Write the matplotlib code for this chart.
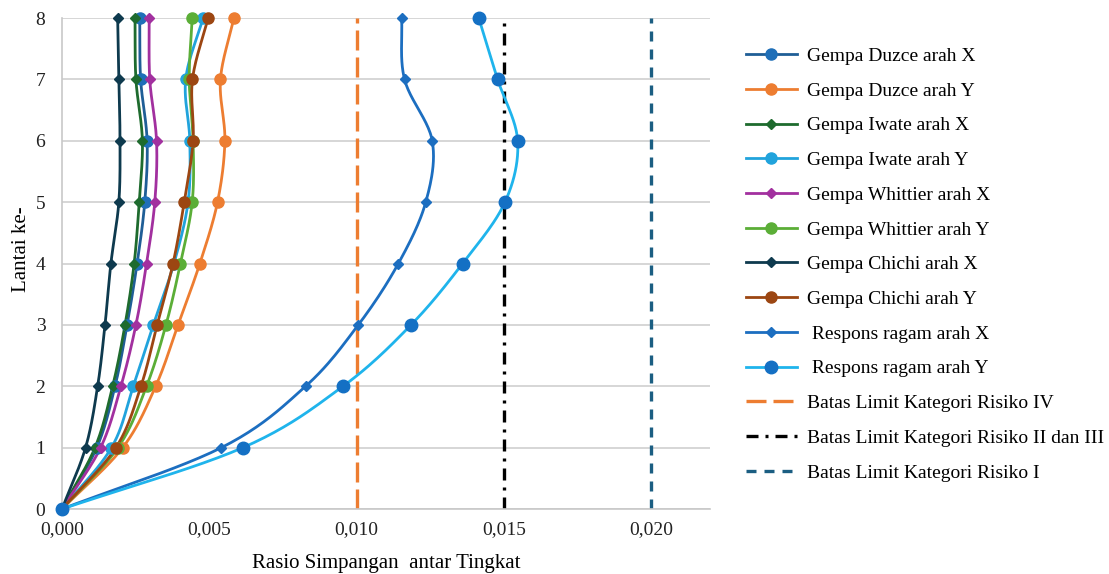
import numpy as np
import matplotlib
matplotlib.use("Agg")
import matplotlib.pyplot as plt
from matplotlib.ticker import FuncFormatter

plt.rcParams['font.family'] = ['Liberation Serif', 'DejaVu Serif']

floors = [0, 1, 2, 3, 4, 5, 6, 7, 8]

duzce_x = [0, 0.00118, 0.00180, 0.00221, 0.00255, 0.00281, 0.00289, 0.00267, 0.00264]
duzce_y = [0, 0.00206, 0.00318, 0.00394, 0.00468, 0.00528, 0.00553, 0.00538, 0.00584]
iwate_x = [0, 0.00112, 0.00172, 0.00214, 0.00245, 0.00262, 0.00273, 0.00251, 0.00248]
iwate_y = [0, 0.00168, 0.00242, 0.00310, 0.00380, 0.00428, 0.00434, 0.00420, 0.00479]
whittier_x = [0, 0.00131, 0.00200, 0.00251, 0.00287, 0.00315, 0.00321, 0.00298, 0.00296]
whittier_y = [0, 0.00190, 0.00287, 0.00353, 0.00402, 0.00442, 0.00445, 0.00432, 0.00442]
chichi_x = [0, 0.00080, 0.00121, 0.00146, 0.00166, 0.00193, 0.00197, 0.00193, 0.00189]
chichi_y = [0, 0.00183, 0.00268, 0.00323, 0.00377, 0.00415, 0.00445, 0.00443, 0.00496]
respons_x = [0, 0.00541, 0.00827, 0.01006, 0.01142, 0.01235, 0.01257, 0.01163, 0.01153]
respons_y = [0, 0.00614, 0.00954, 0.01185, 0.01360, 0.01504, 0.01547, 0.01479, 0.01415]

limit_iv = 0.010
limit_ii_iii = 0.015
limit_i = 0.020

series = [
    ("Gempa Duzce arah X", duzce_x, "#1F5E96", "#1F6FB8", "o", 8),
    ("Gempa Duzce arah Y", duzce_y, "#ED7D31", "#ED7D31", "o", 8),
    ("Gempa Iwate arah X", iwate_x, "#1E6B2E", "#1E6B2E", "D", 5.5),
    ("Gempa Iwate arah Y", iwate_y, "#21A3DC", "#21A3DC", "o", 8),
    ("Gempa Whittier arah X", whittier_x, "#A2309F", "#A2309F", "D", 5.5),
    ("Gempa Whittier arah Y", whittier_y, "#5BAE37", "#5BAE37", "o", 8),
    ("Gempa Chichi arah X", chichi_x, "#0E3A4E", "#0E3A4E", "D", 5.5),
    ("Gempa Chichi arah Y", chichi_y, "#9C4612", "#9C4612", "o", 8),
    (" Respons ragam arah X", respons_x, "#1C6EC0", "#1C6EC0", "D", 5.5),
    (" Respons ragam arah Y", respons_y, "#1FB4EC", "#1470C4", "o", 9),
]


def smooth(xs, ys, n=24):
    """Catmull-Rom curve through the points, like a spreadsheet smoothed line."""
    p = np.column_stack([xs, ys]).astype(float)
    p = np.vstack([p[0] - (p[1] - p[0]), p, p[-1] + (p[-1] - p[-2])])
    out = []
    t = np.linspace(0, 1, n, endpoint=False)[:, None]
    for i in range(1, len(p) - 2):
        p0, p1, p2, p3 = p[i - 1], p[i], p[i + 1], p[i + 2]
        c = 0.5 * ((2 * p1) + (-p0 + p2) * t + (2 * p0 - 5 * p1 + 4 * p2 - p3) * t ** 2
                   + (-p0 + 3 * p1 - 3 * p2 + p3) * t ** 3)
        out.append(c)
    out.append(p[-2][None, :])
    c = np.vstack(out)
    return c[:, 0], c[:, 1]


fig = plt.figure(figsize=(11.09, 5.74), dpi=100)
ax = fig.add_axes([0.0559, 0.1132, 0.5843, 0.8554])

handles = []
for label, xs, lc, mc, mk, ms in series:
    sx, sy = smooth(xs, floors)
    ax.plot(sx, sy, color=lc, lw=2.0, clip_on=False, zorder=3, solid_capstyle='round')
    ax.plot(xs, floors, ls='none', marker=mk, ms=ms, color=mc, clip_on=False, zorder=4)
    h, = ax.plot([], [], color=lc, lw=2.0, marker=mk, ms=ms, mfc=mc, mec=mc, label=label)
    handles.append(h)

h1 = ax.axvline(limit_iv, 0, 1, color="#ED7D31", lw=2.4, dashes=(6, 2.1),
                label="Batas Limit Kategori Risiko IV", zorder=2)
h2 = ax.axvline(limit_ii_iii, 0, 1, color="black", lw=2.4, dashes=(3.6, 2.1, 0.9, 2.1),
                label="Batas Limit Kategori Risiko II dan III", zorder=2)
h3 = ax.axvline(limit_i, 0, 1, color="#1B5E82", lw=2.4, dashes=(3, 2.4),
                label="Batas Limit Kategori Risiko I", zorder=2)
handles += [h1, h2, h3]

ax.set_xlim(0, 0.022)
ax.set_ylim(0, 8)
ax.set_xticks([0, 0.005, 0.010, 0.015, 0.020])
ax.set_yticks(range(0, 9))
ax.xaxis.set_major_formatter(FuncFormatter(lambda v, _: f"{v:.3f}".replace(".", ",")))
ax.tick_params(length=0, labelsize=14, colors="#222222")
ax.tick_params(axis='x', pad=9)
ax.tick_params(axis='y', pad=12)
ax.grid(axis='y', color="#D0D0D0", lw=1.2)
ax.set_axisbelow(True)
for s in ['top', 'right']:
    ax.spines[s].set_visible(False)
for s in ['left', 'bottom']:
    ax.spines[s].set_color("#C8C8C8")
    ax.spines[s].set_linewidth(1.2)

ax.set_xlabel("Rasio Simpangan  antar Tingkat", fontsize=15, labelpad=11.5)
ax.set_ylabel("Lantai ke-", fontsize=15)
ax.yaxis.set_label_coords(-0.048, 0.53)

fig.legend(handles=handles, loc='upper left', bbox_to_anchor=(0.657, 0.948),
           frameon=False, fontsize=14, handlelength=2.6, handletextpad=0.55,
           labelspacing=0.88)

fig.savefig("out.png", dpi=100)
